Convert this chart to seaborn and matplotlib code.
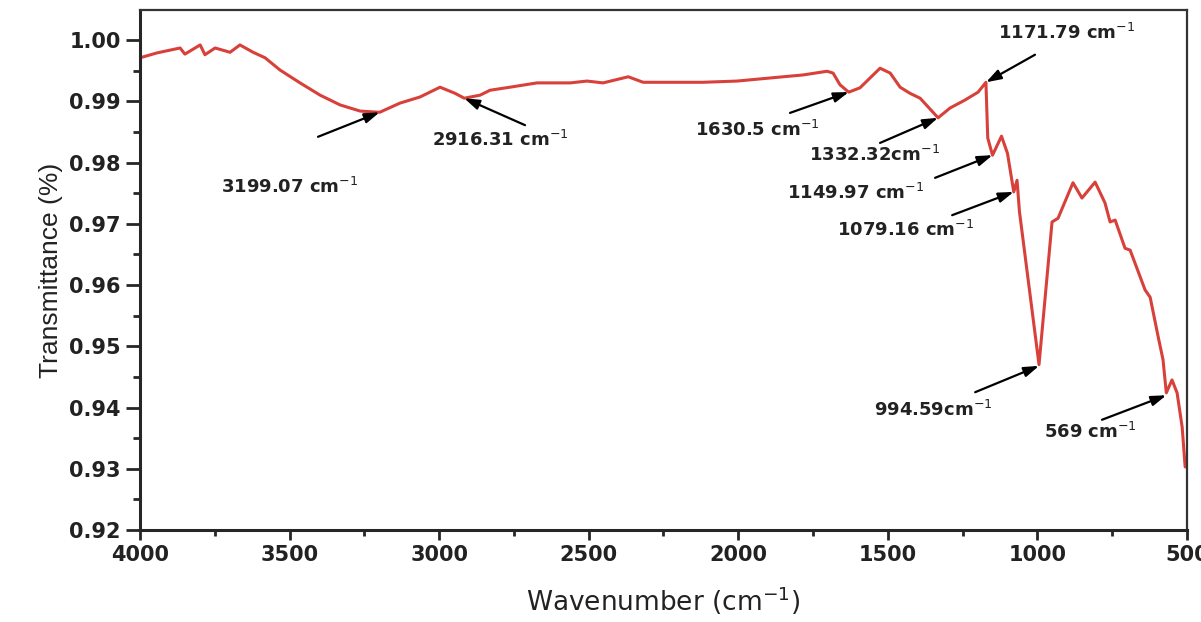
import pandas as pd
import seaborn as sns
import matplotlib.pyplot as plt
from matplotlib.ticker import MultipleLocator

# FTIR spectrum
wavenumber = [4000, 3943, 3866, 3850, 3799, 3783, 3749, 3699, 3666, 3622, 3582, 3532,
              3465, 3398, 3331, 3264, 3199, 3131, 3064, 2997, 2947, 2916, 2863, 2830,
              2763, 2673, 2562, 2506, 2452, 2368, 2318, 2228, 2118, 2004, 1894, 1783,
              1703, 1683, 1660, 1636, 1630, 1593, 1526, 1492, 1459, 1426, 1392, 1332,
              1292, 1242, 1198, 1172, 1166, 1150, 1120, 1100, 1079, 1068, 1060, 994.6,
              951, 931, 881, 851, 807, 774, 757, 740, 707, 690, 640, 623, 596, 580,
              569, 550, 533, 516, 506, 500]
transmittance = [0.9971, 0.9979, 0.9987, 0.9977, 0.9992, 0.9976, 0.9987, 0.9980, 0.9992,
                 0.9980, 0.9971, 0.9951, 0.9930, 0.9910, 0.9894, 0.9884, 0.9882, 0.9897,
                 0.9907, 0.9923, 0.9913, 0.9905, 0.9910, 0.9918, 0.9923, 0.9930, 0.9930,
                 0.9933, 0.9930, 0.9940, 0.9931, 0.9931, 0.9931, 0.9933, 0.9938, 0.9943,
                 0.9949, 0.9946, 0.9927, 0.9917, 0.9915, 0.9922, 0.9954, 0.9946, 0.9923,
                 0.9913, 0.9905, 0.9873, 0.9889, 0.9902, 0.9915, 0.9931, 0.9840, 0.9812,
                 0.9843, 0.9815, 0.9752, 0.9771, 0.9720, 0.9470, 0.9703, 0.9709, 0.9767,
                 0.9742, 0.9768, 0.9734, 0.9703, 0.9706, 0.9660, 0.9657, 0.9592, 0.9580,
                 0.9515, 0.9478, 0.9424, 0.9445, 0.9424, 0.9368, 0.9303, 0.9303]

# peak labels: text, peak (x, y), arrow tail (x, y), text centre (x, y)
peak_labels = ['3199.07 cm$^{-1}$', '2916.31 cm$^{-1}$', '1630.5 cm$^{-1}$',
               '1332.32cm$^{-1}$', '1171.79 cm$^{-1}$', '1149.97 cm$^{-1}$',
               '1079.16 cm$^{-1}$', '994.59cm$^{-1}$', '569 cm$^{-1}$']
peak_x = [3199.07, 2916.31, 1630.5, 1332.32, 1171.79, 1149.97, 1079.16, 994.59, 569]
peak_y = [0.9882, 0.9905, 0.9915, 0.9873, 0.9931, 0.9812, 0.9752, 0.9468, 0.9420]
tail_x = [3405, 2713, 1827, 1526, 1008, 1342, 1285, 1208, 784]
tail_y = [0.9842, 0.9861, 0.9881, 0.9832, 0.9976, 0.9775, 0.9714, 0.9425, 0.9380]
text_x = [3499, 2796, 1937, 1543, 901, 1609, 1442, 1349, 824]
text_y = [0.9760, 0.9837, 0.9853, 0.9812, 1.0011, 0.9750, 0.9690, 0.9396, 0.9360]

df = pd.DataFrame({'Wavenumber': wavenumber, 'Transmittance': transmittance})

sns.set_style('ticks')
plt.rcParams['font.family'] = ['DejaVu Sans']

fig = plt.figure(figsize=(12.01, 6.22), dpi=100)
ax = fig.add_axes([0.1166, 0.1479, 0.8717, 0.836])

sns.lineplot(data=df, x='Wavenumber', y='Transmittance', sort=False,
             color='#d8403a', linewidth=2.2, ax=ax)

for lab, px, py, tx, ty, lx, ly in zip(peak_labels, peak_x, peak_y, tail_x, tail_y,
                                         text_x, text_y):
    ax.annotate('', xy=(px, py), xytext=(tx, ty),
                arrowprops=dict(arrowstyle='-|>,head_length=0.9,head_width=0.3',
                                color='black', lw=1.6, shrinkA=0, shrinkB=0))
    ax.text(lx, ly, lab, fontsize=13, fontweight='bold', color='#222222',
            ha='center', va='center')

ax.set_xlim(4000, 500)
ax.set_ylim(0.92, 1.0049)
ax.xaxis.set_major_locator(MultipleLocator(500))
ax.xaxis.set_minor_locator(MultipleLocator(250))
ax.yaxis.set_major_locator(MultipleLocator(0.01))
ax.yaxis.set_minor_locator(MultipleLocator(0.005))
ax.yaxis.set_major_formatter(plt.FormatStrFormatter('%.2f'))
ax.tick_params(axis='x', which='major', length=7, width=2, labelsize=15, pad=4)
ax.tick_params(axis='x', which='minor', length=4, width=2)
ax.tick_params(axis='y', which='major', length=10, width=2, labelsize=15, pad=4)
ax.tick_params(axis='y', which='minor', length=5, width=2)
for lbl in ax.get_xticklabels() + ax.get_yticklabels():
    lbl.set_fontweight('bold')
    lbl.set_color('#222222')

for side in ['left', 'bottom']:
    ax.spines[side].set_linewidth(2.2)
for side in ['top', 'right']:
    ax.spines[side].set_linewidth(1.6)
    ax.spines[side].set_color('#333333')

ax.set_xlabel('Wavenumber (cm$^{-1}$)', fontsize=19, color='#222222', labelpad=14)
ax.set_ylabel('Transmittance (%)', fontsize=19, color='#222222', labelpad=4,
              family=['Liberation Sans'])

fig.savefig('out.png', dpi=100)
